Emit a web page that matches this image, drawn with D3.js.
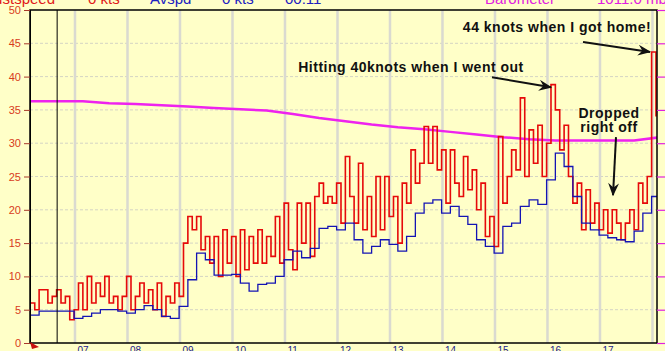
<!DOCTYPE html>
<html>
<head>
<meta charset="utf-8">
<script src="https://cdn.jsdelivr.net/npm/d3@7"></script>
<style>
  html, body { margin: 0; padding: 0; background: #ffffc8; overflow: hidden; }
  svg { display: block; font-family: Arial, "Liberation Sans", sans-serif; }
</style>
</head>
<body>
<div id="chart"></div>
<script>
"use strict";

// logger samples start at 06:09
var startHour = 6.15;

// gust speed (kts), every 5 minutes
var gustStepMin = 5;
var gust = [
  6, 5, 8, 8, 6, 7, 8, 6, 7, 3.5,
  5, 9, 5, 10, 6, 9, 7, 10, 6, 7,
  5, 7, 10, 5, 7, 9, 6, 8, 5, 9,
  4, 7, 6, 9, 7, 15, 19, 17, 19, 14,
  16, 12, 16, 10, 17, 12, 16, 10, 17, 11,
  16, 12, 17, 12, 16, 13, 19, 12, 21, 14,
  11, 21, 15, 21, 13, 22, 24, 21, 22, 21,
  24, 18, 28, 22, 18, 27, 17, 22, 16, 25,
  17, 25, 19, 22, 15, 24, 21, 29, 24, 27,
  32.5, 27, 32.5, 26, 29, 21, 29, 24, 22, 28,
  23, 26, 20, 24, 16, 19, 14.5, 31, 21, 25,
  29, 26, 36.8, 25, 32, 27, 32.7, 25, 30, 38.8,
  35, 29, 32.7, 25, 21, 24, 17, 23, 18, 21,
  17, 20, 16.5, 20, 18, 15.5, 18, 20, 17, 24,
  21, 25, 43.7, 34
];

// average speed (kts), every 10 minutes
var avgStepMin = 10;
var avgSpeed = [
  4.2, 4.8, 4.8, 4.8, 4.8, 3.7, 4.0, 4.5, 5.0, 5.0,
  4.8, 4.5, 5.0, 5.6, 5.0, 4.0, 3.7, 5.5, 9.5, 13.5,
  12.5, 10.2, 10.2, 10.3, 9.0, 7.8, 8.8, 9.0, 10.0, 12.5,
  13.8, 12.8, 14.2, 17.2, 17.5, 17.0, 18.0, 15.5, 13.5, 14.5,
  15.5, 14.8, 13.8, 16.0, 19.5, 21.0, 21.5, 19.5, 20.5, 19.0,
  17.8, 15.5, 14.5, 13.5, 17.5, 18.0, 20.5, 21.5, 20.8, 24.5,
  28.5, 26.5, 22.0, 18.0, 17.0, 16.2, 15.8, 15.5, 15.2, 16.8,
  19.5, 22.0, 24.5
];

// barometer (mb), every 30 minutes
var baroStepMin = 30;
var barometer = [
  1016.3, 1016.3, 1016.3, 1016.0, 1015.9, 1015.7, 1015.5, 1015.3, 1015.1, 1014.9,
  1014.4, 1013.8, 1013.3, 1012.8, 1012.4, 1012.1, 1011.7, 1011.3, 1010.9, 1010.6,
  1010.4, 1010.4, 1010.4, 1010.4, 1010.9
];

var hourTicks = [7, 8, 9, 10, 11, 12, 13, 14, 15, 16, 17];
var gridHours = [7, 8, 9, 10, 11, 12, 13, 14, 15, 16, 17, 18];
var speedTicks = [0, 5, 10, 15, 20, 25, 30, 35, 40, 45, 50];
var baroTicks = [980, 985, 990, 995, 1000, 1005, 1010, 1015, 1020, 1025, 1030];
var cursorHour = 6.66;

var header = [
  {text: "Gustspeed", x: 55, anchor: "end", color: "#e01818"},
  {text: "0 kts", x: 88, anchor: "start", color: "#e01818"},
  {text: "Avspd", x: 150, anchor: "start", color: "#2020c0"},
  {text: "0 kts", x: 222, anchor: "start", color: "#2020c0"},
  {text: "00:11", x: 285, anchor: "start", color: "#2020c0"},
  {text: "Barometer", x: 485, anchor: "start", color: "#e020e0"},
  {text: "1011.0 mb", x: 597, anchor: "start", color: "#e020e0"}
];

// arrow points at (hour, kts); label and tail are pixel offsets from it
var notes = [
  {lines: ["44 knots when I got home!"], hour: 17.953, kts: 43.7, tail: [-67, -10], label: [-93, -20]},
  {lines: ["Hitting 40knots when I went out"], hour: 16.067, kts: 38.4, tail: [-59, -10], label: [-140, -15]},
  {lines: ["Dropped", "right off"], hour: 17.248, kts: 22.2, tail: [3, -58], label: [-4, -77]}
];

var width = 665, height = 351;
var x = d3.scaleLinear().domain([6.143, 18.086]).range([30, 657]);
var y = d3.scaleLinear().domain([0, 50]).range([343, 10]);
var yBaro = d3.scaleLinear().domain([980, 1030]).range([343, 10]);

function series(values, stepMin) {
  return values.map(function (v, i) {
    return {t: startHour + i * stepMin / 60, v: v};
  });
}

var svg = d3.select("#chart").append("svg")
  .attr("width", width).attr("height", height);

svg.append("rect").attr("width", width).attr("height", height).attr("fill", "#ffffc8");

svg.append("defs").append("clipPath").attr("id", "plot")
  .append("rect").attr("x", 30).attr("y", 10).attr("width", 627).attr("height", 333);

svg.append("defs").append("marker")
  .attr("id", "head")
  .attr("viewBox", "0 -5 12 10")
  .attr("refX", 11).attr("refY", 0)
  .attr("markerUnits", "userSpaceOnUse")
  .attr("markerWidth", 14).attr("markerHeight", 11)
  .attr("orient", "auto")
  .append("path").attr("d", "M0,-5L12,0L0,5L4,0Z").attr("fill", "#111");

// header, mostly off the top edge
svg.append("g").selectAll("text").data(header).join("text")
  .attr("x", function (d) { return d.x; })
  .attr("y", 4)
  .attr("text-anchor", function (d) { return d.anchor; })
  .attr("fill", function (d) { return d.color; })
  .attr("font-size", "15px")
  .text(function (d) { return d.text; });

// grid
svg.append("g").selectAll("line").data(speedTicks.slice(1, -1)).join("line")
  .attr("x1", 30).attr("x2", 657)
  .attr("y1", function (d) { return y(d); }).attr("y2", function (d) { return y(d); })
  .attr("stroke", "#d4d4c4").attr("stroke-dasharray", "3,2");

svg.append("g").selectAll("line").data(gridHours).join("line")
  .attr("x1", function (d) { return x(d); }).attr("x2", function (d) { return x(d); })
  .attr("y1", 10).attr("y2", 343)
  .attr("stroke", "#dadad0").attr("stroke-width", 2.5);

var plot = svg.append("g").attr("clip-path", "url(#plot)");

plot.append("path")
  .datum(series(barometer, baroStepMin))
  .attr("fill", "none").attr("stroke", "#ee22ee").attr("stroke-width", 2.5)
  .attr("d", d3.line().x(function (d) { return x(d.t); }).y(function (d) { return yBaro(d.v); }));

plot.append("path")
  .datum(series(gust, gustStepMin))
  .attr("fill", "none").attr("stroke", "#e60a0a").attr("stroke-width", 1.6)
  .attr("d", d3.line().curve(d3.curveStepAfter)
    .x(function (d) { return x(d.t); }).y(function (d) { return y(d.v); }));

plot.append("path")
  .datum(series(avgSpeed, avgStepMin))
  .attr("fill", "none").attr("stroke", "#1414b4").attr("stroke-width", 1.3)
  .attr("d", d3.line().curve(d3.curveStepAfter)
    .x(function (d) { return x(d.t); }).y(function (d) { return y(d.v); }));

svg.append("line")
  .attr("x1", x(cursorHour)).attr("x2", x(cursorHour))
  .attr("y1", 10).attr("y2", 343)
  .attr("stroke", "#000").attr("stroke-width", 1);

// frame and axes
svg.append("rect").attr("x", 30).attr("y", 10).attr("width", 627).attr("height", 333)
  .attr("fill", "none").attr("stroke", "#000").attr("stroke-width", 1.5);

var left = svg.append("g").attr("transform", "translate(30,0)")
  .call(d3.axisLeft(y).tickValues(speedTicks).tickSize(6).tickPadding(3));
left.select(".domain").attr("stroke", "#000");
left.selectAll(".tick line").attr("stroke", "#a83a2a");
left.selectAll(".tick text").attr("fill", "#d83c1c").attr("font-size", "11px")
  .attr("font-family", "Arial, 'Liberation Sans', sans-serif");

var right = svg.append("g").attr("transform", "translate(657,0)")
  .call(d3.axisRight(yBaro).tickValues(baroTicks).tickSize(8).tickFormat(""));
right.select(".domain").remove();
right.selectAll(".tick line").attr("stroke", "#e020e0").attr("stroke-width", 1.2);

var bottom = svg.append("g").attr("transform", "translate(0,343)")
  .call(d3.axisBottom(x).tickValues(hourTicks).tickSize(0).tickPadding(4)
    .tickFormat(function (d) { return (d < 10 ? "0" : "") + d; }));
bottom.select(".domain").remove();
bottom.selectAll(".tick text").attr("fill", "#1a1a8c").attr("font-size", "10px")
  .attr("text-anchor", "start").attr("dx", 2)
  .attr("font-family", "Arial, 'Liberation Sans', sans-serif");

svg.append("path")
  .attr("d", "M30,342L39,347L32,349Z")
  .attr("fill", "#c81010");

// annotations
var note = svg.append("g").selectAll("g").data(notes).join("g");

note.append("line")
  .attr("x1", function (d) { return x(d.hour) + d.tail[0]; })
  .attr("y1", function (d) { return y(d.kts) + d.tail[1]; })
  .attr("x2", function (d) { return x(d.hour); })
  .attr("y2", function (d) { return y(d.kts); })
  .attr("stroke", "#111").attr("stroke-width", 2)
  .attr("marker-end", "url(#head)");

note.each(function (d) {
  d3.select(this).selectAll("text").data(d.lines).join("text")
    .attr("x", x(d.hour) + d.label[0])
    .attr("y", function (s, i) { return y(d.kts) + d.label[1] + i * 14; })
    .attr("text-anchor", "middle")
    .attr("font-size", "14px").attr("font-weight", "bold")
    .attr("letter-spacing", "0.5px")
    .attr("fill", "#111")
    .text(function (s) { return s; });
});
</script>
</body>
</html>
